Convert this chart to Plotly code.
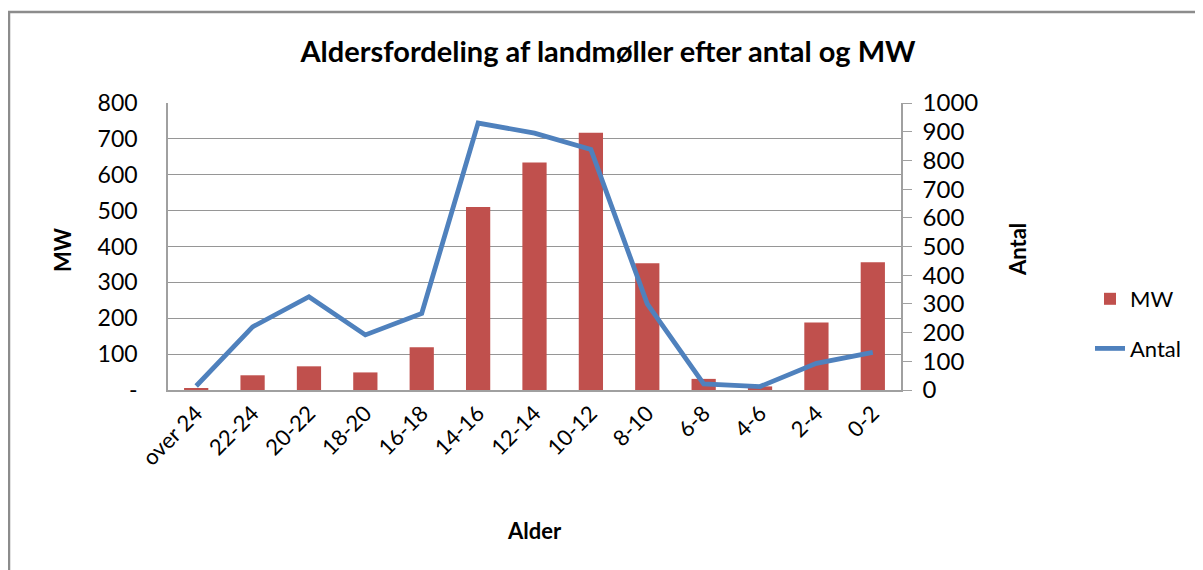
import plotly.graph_objects as go

categories = ["over 24", "22-24", "20-22", "18-20", "16-18", "14-16", "12-14",
              "10-12", "8-10", "6-8", "4-6", "2-4", "0-2"]
mw_values = [5, 41, 66, 49, 119, 510, 634, 717, 353, 31, 10, 188, 356]
antal_values = [14, 220, 325, 192, 267, 930, 895, 838, 300, 21, 12, 93, 131]
mw_ticks = [0, 100, 200, 300, 400, 500, 600, 700, 800]
mw_ticktext = ["-", "100", "200", "300", "400", "500", "600", "700", "800"]
antal_ticks = [0, 100, 200, 300, 400, 500, 600, 700, 800, 900, 1000]

FONT = "Lato, Carlito, Calibri, sans-serif"
OFF = 8  # default page body margin
W, H = 1203 - OFF, 570 - OFF
L, T = 168 - OFF, 103 - OFF
R = W - (901 - OFF)
B = H - (390 - OFF)
pw, ph = W - L - R, H - T - B


def px_x(x):
    return (x - OFF - L) / pw


def px_y(y):
    return 1 - (y - OFF - T) / ph


fig = go.Figure()
fig.add_trace(go.Bar(x=categories, y=mw_values, name="MW",
                     marker=dict(color="#C0504D", line=dict(width=0)),
                     legendgroup="a", yaxis="y"))
fig.add_trace(go.Scatter(x=categories, y=antal_values, name="Antal", mode="lines",
                         line=dict(color="#4F81BD", width=4.8),
                         legendgroup="b", yaxis="y2"))

fig.update_layout(
    width=W, height=H,
    margin=dict(l=L, r=R, t=T, b=B),
    paper_bgcolor="white", plot_bgcolor="white",
    font=dict(family=FONT, size=22, color="#000000"),
    bargap=0.57,
    showlegend=True,
    legend=dict(x=px_x(1090), y=px_y(324), xanchor="left", yanchor="middle",
                font=dict(size=22, color="#000000"), tracegroupgap=18,
                bgcolor="rgba(0,0,0,0)"),
    title=dict(text="<b>Aldersfordeling af landmøller efter antal og MW</b>",
               x=(608 - OFF) / W, xanchor="center", y=1 - (52 - OFF) / H, yanchor="middle",
               font=dict(size=29, family=FONT, color="#000000")),
    xaxis=dict(type="category", tickangle=-45, showgrid=False,
               showline=True, linecolor="#A0A0A0", linewidth=1.5,
               ticks="", tickfont=dict(size=22), range=[-0.5, 12.5]),
    yaxis=dict(range=[0, 800], tickvals=mw_ticks, ticktext=mw_ticktext,
               showgrid=True, gridcolor="#969696", gridwidth=1.2,
               showline=True, linecolor="#A0A0A0", linewidth=1.5,
               ticks="", ticklabelstandoff=24,
               tickfont=dict(size=23), zeroline=False),
    yaxis2=dict(range=[0, 1000], tickvals=antal_ticks, overlaying="y", side="right",
                showgrid=False, showline=True, linecolor="#A0A0A0", linewidth=1.5,
                ticks="outside", ticklen=9, tickcolor="#A0A0A0", ticklabelstandoff=6,
                tickfont=dict(size=24), zeroline=False),
)

fig.add_annotation(text="<b>MW</b>", xref="paper", yref="paper",
                   x=px_x(62), y=px_y(250), xanchor="center", yanchor="middle",
                   showarrow=False, textangle=-90, font=dict(size=22))
fig.add_annotation(text="<b>Antal</b>", xref="paper", yref="paper",
                   x=px_x(1017), y=px_y(250), xanchor="center", yanchor="middle",
                   showarrow=False, textangle=-90, font=dict(size=22))
fig.add_annotation(text="<b>Alder</b>", xref="paper", yref="paper",
                   x=px_x(534), y=px_y(530), xanchor="center", yanchor="middle",
                   showarrow=False, font=dict(size=22))

# outer chart border
fig.add_shape(type="rect", xref="paper", yref="paper",
              x0=px_x(9), x1=px_x(1230),
              y0=px_y(600), y1=px_y(12),
              line=dict(color="#8C8C8C", width=2.5), layer="below")

fig.write_html("out.html")
